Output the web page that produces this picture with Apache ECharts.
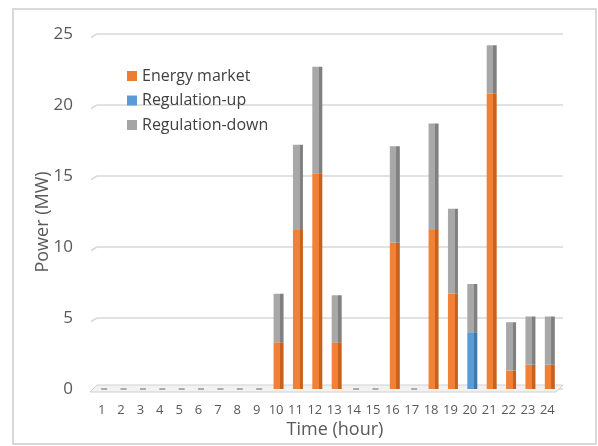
<!DOCTYPE html>
<html>
<head>
<meta charset="utf-8">
<script src="https://cdn.jsdelivr.net/npm/echarts@6/dist/echarts.min.js"></script>
<style>
  html, body { margin: 0; padding: 0; background: #fff; }
  #chart { width: 598px; height: 446px; }
</style>
</head>
<body>
<div id="chart"></div>
<script>
// Hourly allocation of power (MW) across three markets
const hours = ['1','2','3','4','5','6','7','8','9','10','11','12','13','14','15','16','17','18','19','20','21','22','23','24'];
const energyMarket   = [0,0,0,0,0,0,0,0,0,3.3,11.2,15.2,3.3,0,0,10.3,0,11.2,6.7,0,20.8,1.3,1.7,1.7];
const regulationUp   = [0,0,0,0,0,0,0,0,0,0,0,0,0,0,0,0,0,0,0,4.0,0,0,0,0];
const regulationDown = [0,0,0,0,0,0,0,0,0,3.4,6.0,7.5,3.3,0,0,6.8,0,7.5,6.0,3.4,3.4,3.4,3.4,3.4];
const yTicks = [0, 5, 10, 15, 20, 25];

const FONT = '"Open Sans", "Noto Sans", sans-serif';
const TEXT = '#595959';

// Hours with no allocation at all get a flat marker on the floor
const idleHours = hours
  .map((h, i) => [h, energyMarket[i] + regulationUp[i] + regulationDown[i]])
  .filter(d => d[1] === 0)
  .map(d => [d[0], 0]);

// Bar with a lit front face and a shaded right side
function barFill(front, side) {
  return new echarts.graphic.LinearGradient(0, 0, 1, 0, [
    { offset: 0, color: front },
    { offset: 0.66, color: front },
    { offset: 0.67, color: side },
    { offset: 1, color: side }
  ]);
}

const chart = echarts.init(document.getElementById('chart'), null, { renderer: 'canvas' });

const PLOT = { top: 34, bottom: 57 };
const GRID_LINES = { left: 97, right: 35 };
const GRID_BARS = { left: 94.5, right: 38.5 };

chart.setOption({
  animation: false,
  backgroundColor: '#fff',
  grid: [
    { left: GRID_LINES.left, right: GRID_LINES.right, top: PLOT.top, bottom: PLOT.bottom },
    { left: GRID_BARS.left, right: GRID_BARS.right, top: PLOT.top, bottom: PLOT.bottom }
  ],
  legend: {
    orient: 'vertical',
    left: 122,
    top: 63,
    itemWidth: 10,
    itemHeight: 10,
    itemGap: 8.5,
    icon: 'rect',
    textStyle: { fontFamily: FONT, fontSize: 16, color: '#404040', lineHeight: 16 },
    data: [
      { name: 'Energy market', itemStyle: { color: '#ED7D31' } },
      { name: 'Regulation-up', itemStyle: { color: '#5B9BD5' } },
      { name: 'Regulation-down', itemStyle: { color: '#A5A5A5' } }
    ]
  },
  xAxis: [
    { gridIndex: 0, type: 'category', data: hours, show: false },
    {
      gridIndex: 1, type: 'category', data: hours,
      axisLine: { show: false }, axisTick: { show: false },
      axisLabel: { interval: 0, margin: 15, fontSize: 13, color: TEXT, fontFamily: FONT, padding: [0, 5, 0, 0] }
    }
  ],
  yAxis: [
    {
      gridIndex: 0, type: 'value', min: yTicks[0], max: yTicks[yTicks.length - 1], interval: 5,
      axisLine: { show: false }, axisTick: { show: false },
      splitLine: { lineStyle: { color: '#d9d9d9', width: 1.5 } },
      axisLabel: { margin: 24, fontSize: 17, color: TEXT, fontFamily: FONT }
    },
    {
      gridIndex: 1, type: 'value', min: yTicks[0], max: yTicks[yTicks.length - 1], interval: 5,
      show: false
    }
  ],
  series: [
    {
      name: 'Energy market', type: 'bar', stack: 'total', xAxisIndex: 1, yAxisIndex: 1,
      barWidth: 10, data: energyMarket, z: 3,
      itemStyle: { color: barFill('#F08136', '#C8611C') }
    },
    {
      name: 'Regulation-up', type: 'bar', stack: 'total', xAxisIndex: 1, yAxisIndex: 1,
      barWidth: 10, data: regulationUp, z: 3,
      itemStyle: { color: barFill('#5B9BD5', '#3F77AD') }
    },
    {
      name: 'Regulation-down', type: 'bar', stack: 'total', xAxisIndex: 1, yAxisIndex: 1,
      barWidth: 10, data: regulationDown, z: 3,
      itemStyle: { color: barFill('#A8A8A8', '#808080') }
    },
    {
      name: 'idle', type: 'scatter', xAxisIndex: 1, yAxisIndex: 1,
      data: idleHours, symbol: 'rect', symbolSize: [6, 2], z: 4,
      itemStyle: { color: '#9a9a9a' }, silent: true
    }
  ]
});

// Frame, floor, slanted grid-line ends and axis titles
const y0 = chart.convertToPixel({ yAxisIndex: 0 }, 0);
const xl = GRID_LINES.left;
const xr = 598 - GRID_LINES.right;
const extras = [
  {
    type: 'rect', z: 0,
    shape: { x: 13, y: 9, width: 583, height: 435 },
    style: { fill: null, stroke: '#d9d9d9', lineWidth: 2 }
  },
  {
    type: 'polygon', z: 1,
    shape: { points: [[xl, y0 - 4], [xr, y0 - 4], [xr - 7, y0 + 3], [xl - 7, y0 + 3]] },
    style: { fill: '#f2f2f2', stroke: '#d0d0d0', lineWidth: 1 }
  },
  {
    type: 'text', z: 5, x: 335, y: 430,
    style: { text: 'Time (hour)', fontFamily: FONT, fontSize: 18, fill: TEXT, align: 'center', verticalAlign: 'middle' }
  },
  {
    type: 'text', z: 5, x: 43, y: 222, rotation: Math.PI / 2,
    style: { text: 'Power (MW)', fontFamily: FONT, fontSize: 18, fill: TEXT, align: 'center', verticalAlign: 'middle' }
  }
];
yTicks.slice(1).forEach(v => {
  const y = chart.convertToPixel({ yAxisIndex: 0 }, v);
  extras.push({
    type: 'line', z: 1,
    shape: { x1: xl - 6, y1: y + 3.5, x2: xl, y2: y },
    style: { stroke: '#d9d9d9', lineWidth: 1.5 }
  });
});
chart.setOption({ graphic: extras });
</script>
</body>
</html>
